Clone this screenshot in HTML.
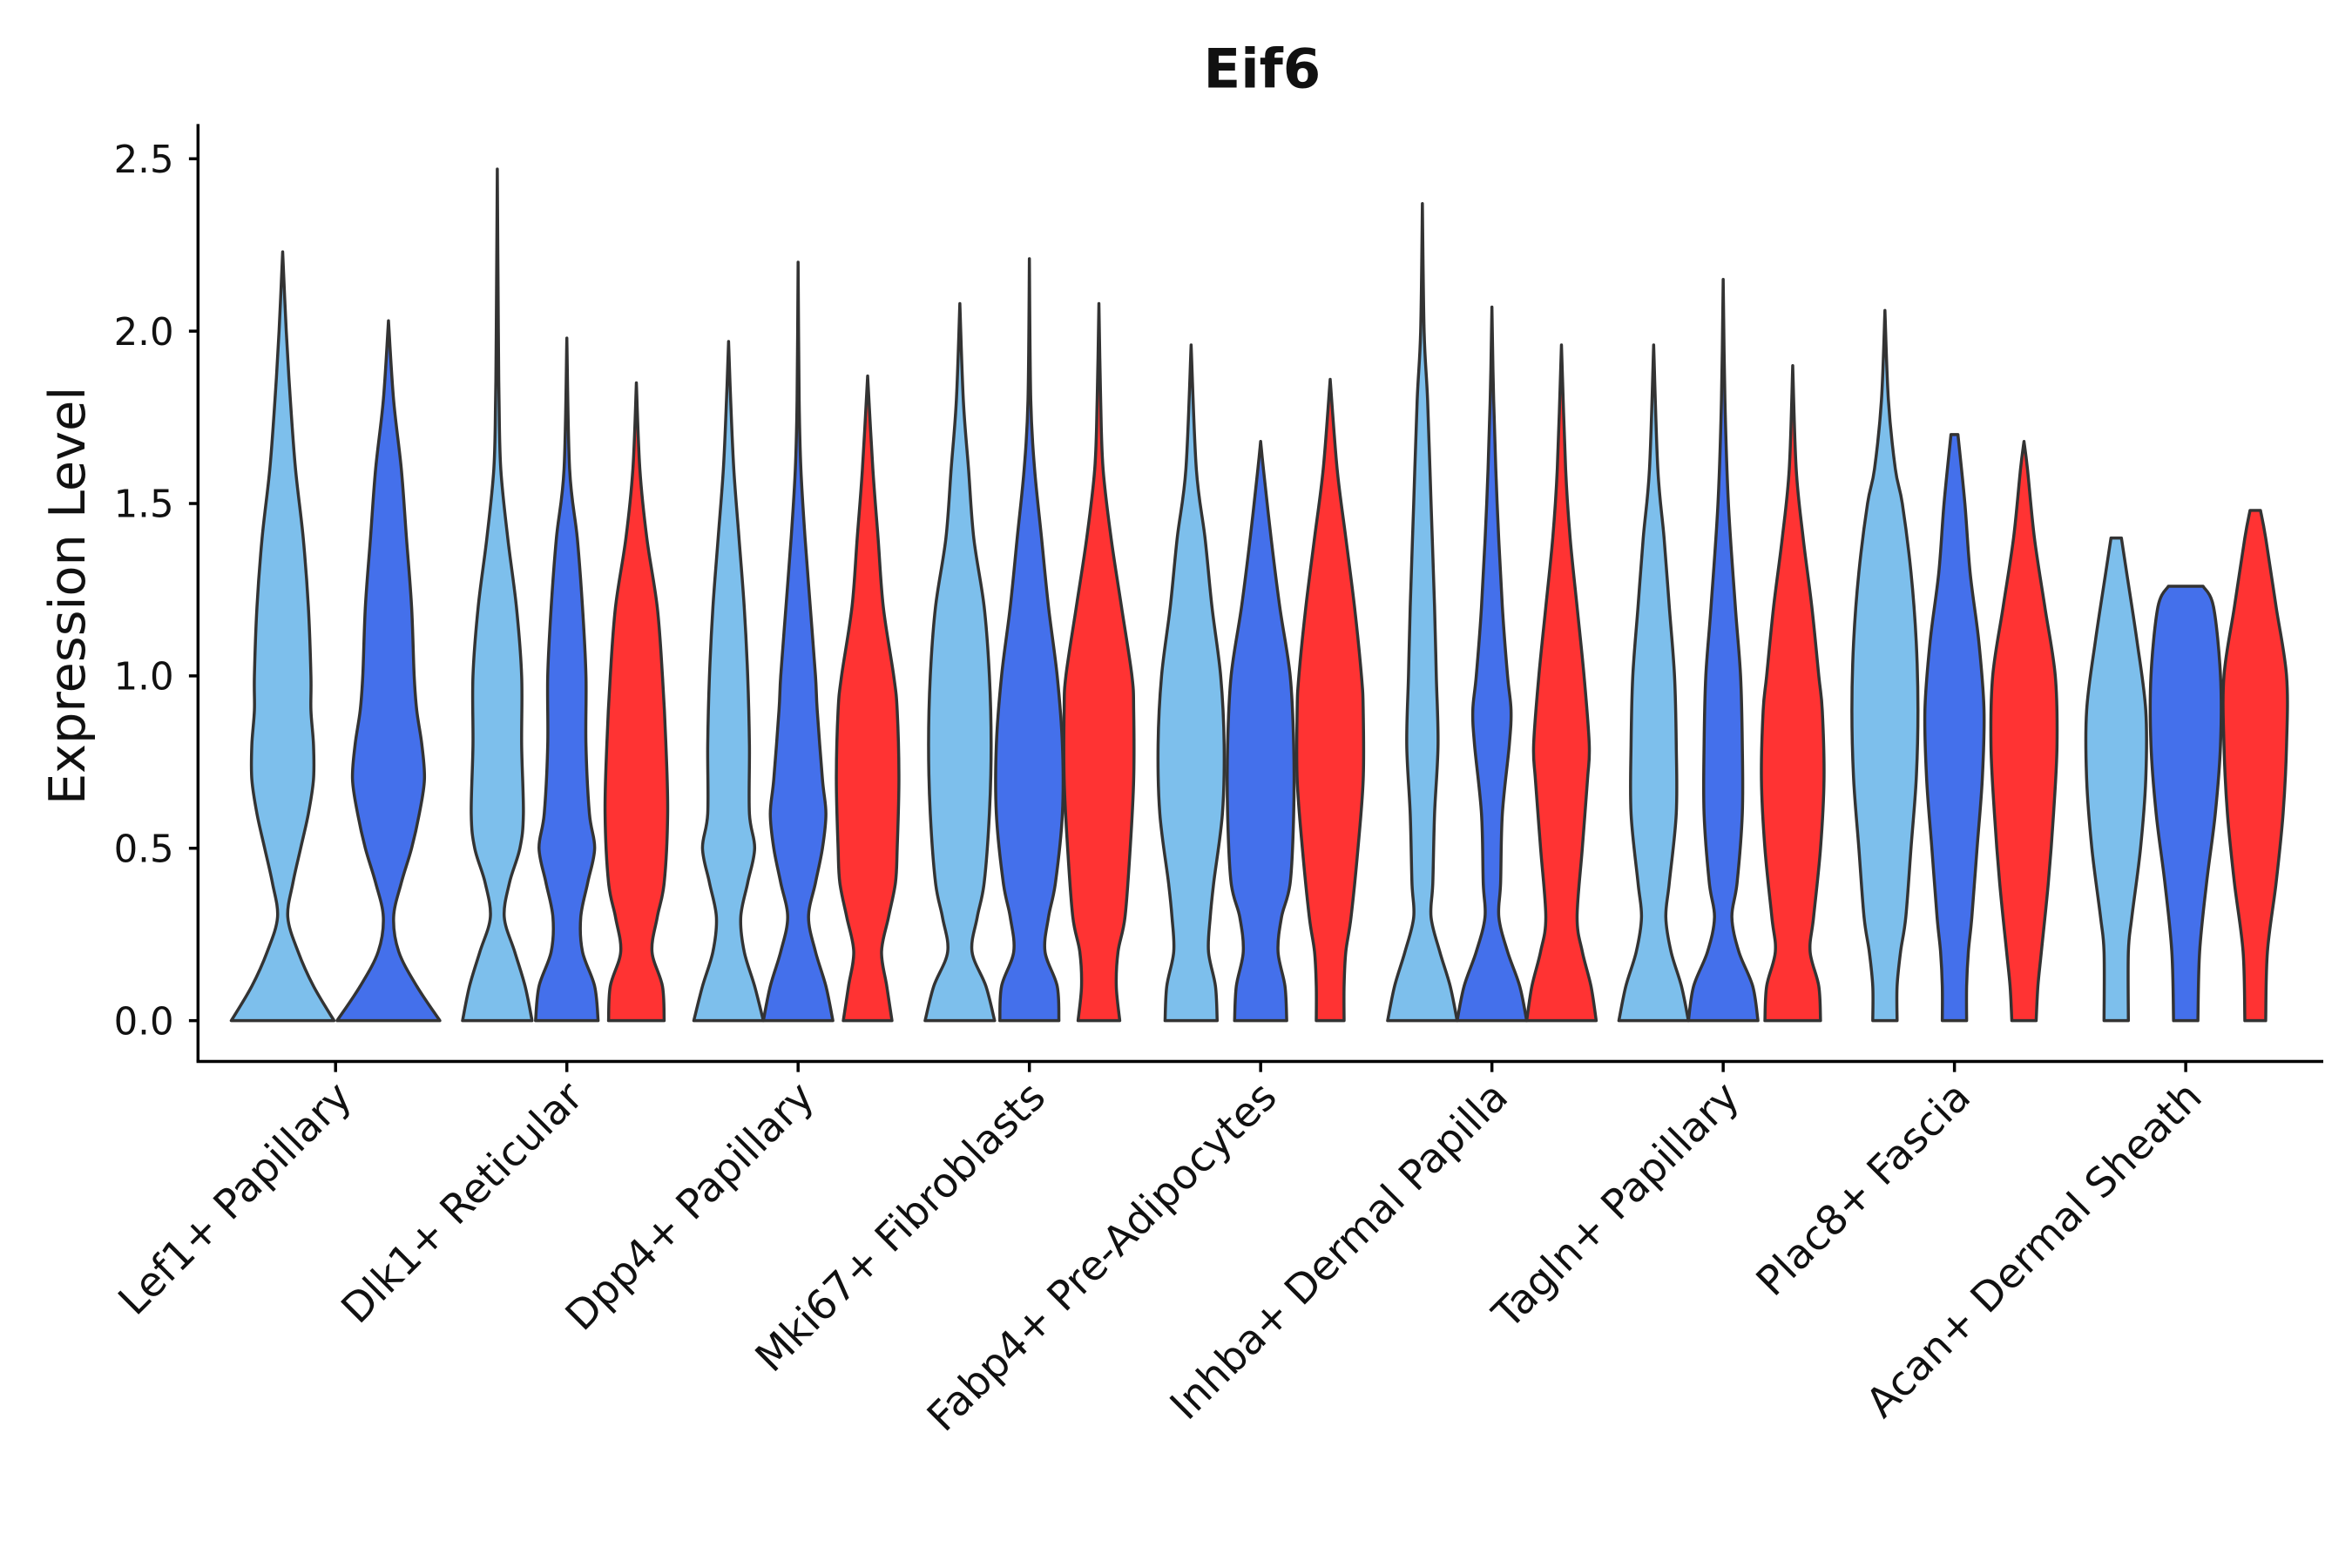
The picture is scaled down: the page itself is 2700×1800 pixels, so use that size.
<!DOCTYPE html>
<html><head><meta charset="utf-8"><style>
html,body{margin:0;padding:0;background:#fff}
svg{display:block}
text{font-family:"DejaVu Sans","Liberation Sans",sans-serif;fill:#111}
</style></head><body>
<svg id="chart" width="2700" height="1800" viewBox="0 0 1556 1037" preserveAspectRatio="none" xmlns="http://www.w3.org/2000/svg">
<text x="835" y="58" text-anchor="middle" font-size="36" font-weight="bold">Eif6</text>
<text transform="translate(56,394) rotate(-90)" text-anchor="middle" font-size="33">Expression Level</text>
<g id="violins"></g>
<g id="axes"></g>
</svg>
<script>
const categories = ["Lef1+ Papillary","Dlk1+ Reticular","Dpp4+ Papillary","Mki67+ Fibroblasts","Fabp4+ Pre-Adipocytes","Inhba+ Dermal Papilla","Tagln+ Papillary","Plac8+ Fascia","Acan+ Dermal Sheath"];
const groups = ["light","blue","red"];
const groupColors = {light:"#7DBFEC",blue:"#4470EB",red:"#FF3333"};
const yTicks = [0,0.5,1.0,1.5,2.0,2.5];
const yTickLabels = ["0.0","0.5","1.0","1.5","2.0","2.5"];
const lightProfiles = [
 [[0,1],[.1,.6],[.2,.3],[.3,.1],[.4,.2],[.5,.35],[.6,.5],[.7,.6],[.8,.6],[.9,.55],[1,.55],[1.2,.5],[1.4,.4],[1.6,.25],[1.8,.15],[2,.07],[2.23,0]],
 [[0,1],[.1,.8],[.2,.5],[.3,.2],[.4,.35],[.5,.65],[.6,.75],[.8,.7],[1,.7],[1.2,.55],[1.4,.3],[1.6,.1],[1.8,.05],[2,.03],[2.47,0]],
 [[0,1],[.1,.75],[.2,.45],[.3,.35],[.4,.55],[.5,.75],[.6,.6],[.8,.6],[1,.55],[1.2,.45],[1.4,.3],[1.6,.15],[1.8,.06],[1.97,0]],
 [[0,1],[.1,.75],[.2,.35],[.3,.5],[.4,.7],[.6,.85],[.8,.9],[1,.85],[1.2,.7],[1.4,.4],[1.6,.25],[1.8,.1],[2.08,0]],
 [[0,.75],[.1,.7],[.2,.5],[.3,.55],[.4,.65],[.6,.9],[.8,.95],[1,.85],[1.2,.6],[1.4,.4],[1.6,.15],[1.96,0]],
 [[0,1],[.1,.8],[.2,.5],[.3,.25],[.4,.3],[.6,.35],[.8,.45],[1,.4],[1.2,.35],[1.5,.25],[1.8,.15],[2,.05],[2.37,0]],
 [[0,1],[.1,.8],[.2,.5],[.3,.35],[.4,.45],[.6,.65],[.8,.65],[1,.6],[1.2,.45],[1.4,.3],[1.6,.12],[1.96,0]],
 [[0,.35],[.1,.35],[.2,.45],[.3,.6],[.5,.75],[.7,.9],[.9,.95],[1.1,.9],[1.3,.75],[1.5,.5],[1.6,.3],[1.8,.1],[2.06,0]],
 [[0,.35],[.2,.35],[.3,.45],[.5,.7],[.7,.85],[.9,.85],[1.1,.6],[1.3,.3],[1.4,.15]]
];
const blueProfiles = [
 [[0,1],[.1,.55],[.2,.2],[.3,.1],[.4,.25],[.5,.45],[.6,.6],[.7,.7],[.8,.65],[.9,.55],[1,.5],[1.2,.45],[1.4,.35],[1.6,.25],[1.8,.1],[2.03,0]],
 [[0,.9],[.1,.8],[.2,.45],[.3,.4],[.4,.6],[.5,.8],[.6,.65],[.8,.55],[1,.55],[1.2,.45],[1.4,.3],[1.6,.08],[1.98,0]],
 [[0,1],[.1,.8],[.2,.5],[.3,.3],[.4,.5],[.5,.7],[.6,.8],[.7,.7],[.9,.55],[1,.5],[1.2,.35],[1.4,.2],[1.6,.08],[1.8,.03],[2.2,0]],
 [[0,.85],[.1,.8],[.2,.45],[.3,.55],[.4,.75],[.6,.95],[.8,.95],[1,.8],[1.2,.55],[1.4,.35],[1.6,.15],[1.8,.04],[2.21,0]],
 [[0,.75],[.1,.7],[.2,.5],[.3,.6],[.4,.85],[.6,.95],[.8,.95],[1,.85],[1.2,.55],[1.4,.3],[1.6,.08],[1.68,0]],
 [[0,1],[.1,.8],[.2,.45],[.3,.2],[.4,.25],[.6,.3],[.8,.5],[.9,.55],[1,.45],[1.2,.3],[1.5,.15],[1.8,.05],[2.07,0]],
 [[0,1],[.1,.85],[.2,.45],[.3,.25],[.4,.4],[.6,.55],[.8,.55],[1,.5],[1.2,.35],[1.5,.15],[1.8,.05],[2.15,0]],
 [[0,.35],[.1,.35],[.2,.4],[.3,.5],[.5,.65],[.7,.8],[.9,.85],[1.1,.7],[1.3,.45],[1.5,.3],[1.7,.1]],
 [[0,.35],[.2,.4],[.4,.6],[.6,.85],[.8,1],[1,1],[1.2,.8],[1.26,.5]]
];
const redProfiles = [
 null,
 [[0,.8],[.1,.75],[.2,.45],[.3,.6],[.4,.8],[.6,.9],[.8,.85],[1,.75],[1.2,.6],[1.4,.3],[1.6,.1],[1.85,0]],
 [[0,.7],[.1,.55],[.2,.4],[.3,.6],[.4,.8],[.5,.85],[.7,.9],[.9,.85],[1,.75],[1.2,.45],[1.4,.3],[1.6,.15],[1.87,0]],
 [[0,.6],[.1,.5],[.2,.55],[.3,.75],[.5,.9],[.7,1],[.9,1],[1,.95],[1.2,.65],[1.4,.35],[1.6,.12],[1.8,.05],[2.08,0]],
 [[0,.4],[.1,.4],[.2,.45],[.3,.6],[.5,.8],[.7,.95],[.9,.95],[1,.9],[1.2,.7],[1.4,.45],[1.6,.2],[1.86,0]],
 [[0,1],[.1,.85],[.2,.6],[.3,.45],[.5,.6],[.7,.75],[.8,.8],[1,.65],[1.2,.45],[1.4,.25],[1.6,.12],[1.96,0]],
 [[0,.8],[.1,.75],[.2,.5],[.3,.6],[.5,.8],[.7,.9],[.9,.85],[1,.75],[1.2,.55],[1.4,.3],[1.6,.1],[1.9,0]],
 [[0,.35],[.1,.4],[.2,.5],[.4,.7],[.6,.85],[.8,.95],[1,.9],[1.2,.6],[1.4,.3],[1.6,.1],[1.68,0]],
 [[0,.3],[.2,.35],[.4,.6],[.6,.8],[.8,.9],[1,.9],[1.2,.6],[1.4,.3],[1.48,.15]]
];
const profiles = {light:lightProfiles, blue:blueProfiles, red:redProfiles};

const NS="http://www.w3.org/2000/svg";
const X0=131, X1=1537, Y0=82, YB=702;
const catStart=222, catStep=153;
const yScale = v => 675 - v*228;
const xCat = i => catStart + i*catStep;

function smoothSide(pts){
  let d="";
  for(let i=0;i<pts.length-1;i++){
    const p0=pts[Math.max(i-1,0)],p1=pts[i],p2=pts[i+1],p3=pts[Math.min(i+2,pts.length-1)];
    const c1=[p1[0]+(p2[0]-p0[0])/6,p1[1]+(p2[1]-p0[1])/6];
    const c2=[p2[0]-(p3[0]-p1[0])/6,p2[1]-(p3[1]-p1[1])/6];
    d+=` C${c1[0].toFixed(2)},${c1[1].toFixed(2)} ${c2[0].toFixed(2)},${c2[1].toFixed(2)} ${p2[0].toFixed(2)},${p2[1].toFixed(2)}`;
  }
  return d;
}
const vg=document.getElementById('violins');
categories.forEach((c,i)=>{
  const present = groups.filter(g=>profiles[g][i]);
  const n=present.length;
  const off = n===3 ? 46 : 35;
  const hw = n===3 ? 23 : 34;
  present.forEach((g,k)=>{
    const cx = xCat(i) + (k-(n-1)/2)*off*(n===3?1:2);
    const prof = profiles[g][i];
    const right = prof.map(p=>[cx+p[1]*hw, yScale(p[0])]);
    const left = prof.slice().reverse().map(p=>[cx-p[1]*hw, yScale(p[0])]);
    let d=`M${right[0][0]},${right[0][1]}`+smoothSide(right)+` L${left[0][0]},${left[0][1]}`+smoothSide(left)+" Z";
    const path=document.createElementNS(NS,'path');
    path.setAttribute('d',d);
    path.setAttribute('fill',groupColors[g]);
    path.setAttribute('stroke','#333');
    path.setAttribute('stroke-width','2');
    path.setAttribute('stroke-linejoin','round');
    
    
    vg.appendChild(path);
  });
});
const ag=document.getElementById('axes');
function line(x1,y1,x2,y2,name){
  const l=document.createElementNS(NS,'line');
  l.setAttribute('x1',x1);l.setAttribute('y1',y1);l.setAttribute('x2',x2);l.setAttribute('y2',y2);
  l.setAttribute('stroke','#000');l.setAttribute('stroke-width','2');
  
  
  ag.appendChild(l);
}
line(X0,Y0,X0,YB,'y-axis-line');
line(X0-1,YB,X1,YB,'x-axis-line');
yTicks.forEach((v,i)=>{
  const y=yScale(v);
  line(X0-6,y,X0,y,'y-tick');
  const t=document.createElementNS(NS,'text');
  t.setAttribute('x',X0-16);t.setAttribute('y',y+9);t.setAttribute('text-anchor','end');t.setAttribute('font-size','25');
  t.textContent=yTickLabels[i];
  
  
  ag.appendChild(t);
});
categories.forEach((c,i)=>{
  const x=xCat(i);
  line(x,YB,x,YB+7,'x-tick');
  const t=document.createElementNS(NS,'text');
  t.setAttribute('transform',`translate(${x+12},${YB+25}) rotate(-45)`);
  t.setAttribute('text-anchor','end');t.setAttribute('font-size','27');
  t.textContent=c;
  
  
  ag.appendChild(t);
});
</script>
</body></html>
